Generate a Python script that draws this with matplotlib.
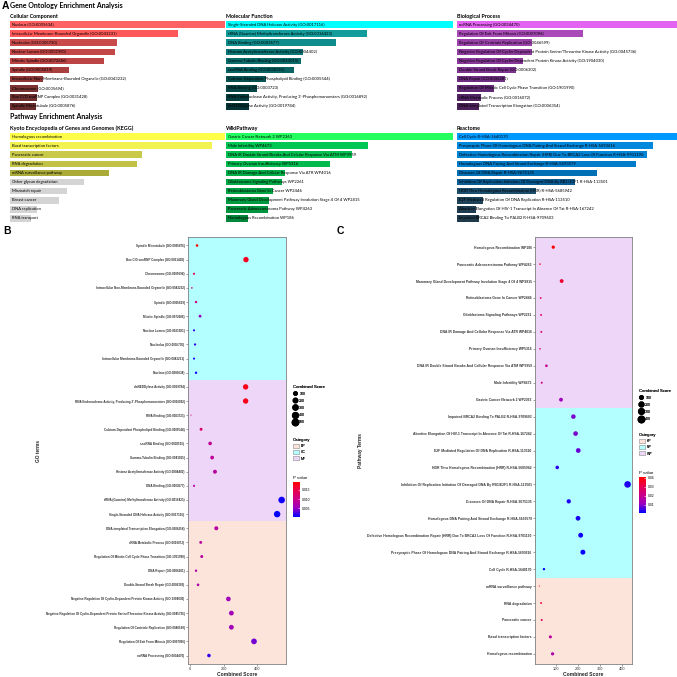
import numpy as np
import matplotlib
matplotlib.use("Agg")
import matplotlib.pyplot as plt
from matplotlib.colors import LinearSegmentedColormap, Normalize
from matplotlib.cm import ScalarMappable
from matplotlib.lines import Line2D
from matplotlib.patches import Patch

# ---------------- panel A : enrichment bar charts ----------------
cc_terms = ["Nucleus (GO:0005634)",
            "Intracellular Membrane-Bounded Organelle (GO:0043231)",
            "Nucleolus (GO:0005730)",
            "Nuclear Lumen (GO:0031981)",
            "Mitotic Spindle (GO:0072686)",
            "Spindle (GO:0005819)",
            "Intracellular Non-Membrane-Bounded Organelle (GO:0043232)",
            "Chromosome (GO:0005694)",
            "Box C/D snoRNP Complex (GO:0031428)",
            "Spindle Microtubule (GO:0005876)"]
cc_score = [215, 168, 107, 105, 94, 59, 33, 28, 27, 26]
cc_colors = ["#FF6262", "#FF5858", "#C84A4A", "#C44747", "#BC4444", "#A83E3E",
             "#8E3838", "#7C3333", "#6E2F2F", "#682C2C"]

mf_terms = ["Single-Stranded DNA Helicase Activity (GO:0017116)",
            "tRNA (Guanine) Methyltransferase Activity (GO:0016423)",
            "DNA Binding (GO:0003677)",
            "Histone Acetyltransferase Activity (GO:0004402)",
            "Gamma-Tubulin Binding (GO:0043015)",
            "snoRNA Binding (GO:0030515)",
            "Calcium-Dependent Phospholipid Binding (GO:0005544)",
            "RNA Binding (GO:0003723)",
            "RNA Endonuclease Activity, Producing 3'-Phosphomonoesters (GO:0016892)",
            "deNEDDylase Activity (GO:0019784)"]
mf_score = [227, 141, 110, 77, 75, 68, 40, 31, 23, 23]
mf_colors = ["#00FFFF", "#129C9C", "#0F8C8C", "#0C7676", "#0B6C6C", "#0A6464",
             "#085252", "#064646", "#053C3C", "#043434"]

bp_terms = ["ncRNA Processing (GO:0034470)",
            "Regulation Of Exit From Mitosis (GO:0007096)",
            "Regulation Of Centriole Replication (GO:0046599)",
            "Negative Regulation Of Cyclin-Dependent Protein Serine/Threonine Kinase Activity (GO:0045736)",
            "Negative Regulation Of Cyclin-Dependent Protein Kinase Activity (GO:1904030)",
            "Double-Strand Break Repair (GO:0006302)",
            "DNA Repair (GO:0006281)",
            "Regulation Of Mitotic Cell Cycle Phase Transition (GO:1901990)",
            "rRNA Metabolic Process (GO:0016072)",
            "DNA-templated Transcription Elongation (GO:0006354)"]
bp_score = [220, 126, 75, 75, 66, 59, 48, 37, 24, 22]
bp_colors = ["#E462F2", "#A94AB8", "#9A42AA", "#8F3C9F", "#873898", "#7D3490",
             "#702F82", "#612873", "#532463", "#4B205A"]

kegg_terms = ["Homologous recombination", "Basal transcription factors",
              "Pancreatic cancer", "RNA degradation", "mRNA surveillance pathway",
              "Other glycan degradation", "Mismatch repair", "Breast cancer",
              "DNA replication", "RNA transport"]
kegg_score = [215, 202, 132, 127, 99, 74, 57, 49, 27, 21]
kegg_colors = ["#FFFF4A", "#F2F250", "#CACA4A", "#C2C246", "#ABAB3A", "#D4D4D4",
               "#D4D4D4", "#D4D4D4", "#D4D4D4", "#D4D4D4"]

wp_terms = ["Gastric Cancer Network 2 WP2363", "Male Infertility WP4673",
            "DNA IR Double Strand Breaks And Cellular Response Via ATM WP3959",
            "Primary Ovarian Insufficiency WP5316",
            "DNA IR Damage And Cellular Response Via ATR WP4016",
            "Glioblastoma Signaling Pathways WP2261",
            "Retinoblastoma Gene In Cancer WP2446",
            "Mammary Gland Development Pathway Involution Stage 4 Of 4 WP2815",
            "Pancreatic Adenocarcinoma Pathway WP4263",
            "Homologous Recombination WP186"]
wp_score = [227, 142, 126, 104, 59, 56, 47, 43, 42, 22]
wp_colors = ["#22FF5E", "#00C653", "#00C050", "#00BA4D", "#00AE48", "#00A845",
             "#00A244", "#009A41", "#00943E", "#00873A"]

re_terms = ["Cell Cycle R-HSA-1640170",
            "Presynaptic Phase Of Homologous DNA Pairing And Strand Exchange R-HSA-5693616",
            "Defective Homologous Recombination Repair (HRR) Due To BRCA2 Loss Of Function R-HSA-9701190",
            "Homologous DNA Pairing And Strand Exchange R-HSA-5693579",
            "Diseases Of DNA Repair R-HSA-9675135",
            "Inhibition Of Replication Initiation Of Damaged DNA By RB1/E2F1 R-HSA-113501",
            "HDR Thru Homologous Recombination (HRR) R-HSA-5685942",
            "E2F Mediated Regulation Of DNA Replication R-HSA-113510",
            "Abortive Elongation Of HIV-1 Transcript In Absence Of Tat R-HSA-167242",
            "Impaired BRCA2 Binding To PALB2 R-HSA-9709603"]
re_score = [220, 196, 190, 179, 140, 118, 79, 26, 19, 22]
re_colors = ["#0099FF", "#0088DC", "#0084D6", "#007CCA", "#0070B6", "#0A5C94",
             "#1C4E6E", "#1E4258", "#1F3D50", "#1F3A4B"]

# ---------------- panel B : GO dot plot ----------------
go_terms = ["Spindle Microtubule (GO:0005876)",
            "Box C/D snoRNP Complex (GO:0031428)",
            "Chromosome (GO:0005694)",
            "Intracellular Non-Membrane-Bounded Organelle (GO:0043232)",
            "Spindle (GO:0005819)",
            "Mitotic Spindle (GO:0072686)",
            "Nuclear Lumen (GO:0031981)",
            "Nucleolus (GO:0005730)",
            "Intracellular Membrane-Bounded Organelle (GO:0043231)",
            "Nucleus (GO:0005634)",
            "deNEDDylase Activity (GO:0019784)",
            "RNA Endonuclease Activity, Producing 3'-Phosphomonoesters (GO:0016892)",
            "RNA Binding (GO:0003723)",
            "Calcium-Dependent Phospholipid Binding (GO:0005544)",
            "snoRNA Binding (GO:0030515)",
            "Gamma-Tubulin Binding (GO:0043015)",
            "Histone Acetyltransferase Activity (GO:0004402)",
            "DNA Binding (GO:0003677)",
            "tRNA (Guanine) Methyltransferase Activity (GO:0016423)",
            "Single-Stranded DNA Helicase Activity (GO:0017116)",
            "DNA-templated Transcription Elongation (GO:0006354)",
            "rRNA Metabolic Process (GO:0016072)",
            "Regulation Of Mitotic Cell Cycle Phase Transition (GO:1901990)",
            "DNA Repair (GO:0006281)",
            "Double-Strand Break Repair (GO:0006302)",
            "Negative Regulation Of Cyclin-Dependent Protein Kinase Activity (GO:1904030)",
            "Negative Regulation Of Cyclin-Dependent Protein Serine/Threonine Kinase Activity (GO:0045736)",
            "Regulation Of Centriole Replication (GO:0046599)",
            "Regulation Of Exit From Mitosis (GO:0007096)",
            "ncRNA Processing (GO:0034470)"]
go_cat = ["CC"] * 10 + ["MF"] * 10 + ["BP"] * 10
go_score = [42, 334, 24, 11, 36, 60, 24, 30, 24, 36,
            332, 332, 6, 66, 120, 132, 149, 24, 547, 520,
            157, 64, 70, 36, 48, 229, 247, 247, 382, 113]
go_p = [0.019, 0.017, 0.015, 0.013, 0.010, 0.005, 0.002, 0.002, 0.0015, 0.001,
        0.0175, 0.0175, 0.014, 0.013, 0.009, 0.0085, 0.008, 0.007, 0.001, 0.0005,
        0.008, 0.008, 0.008, 0.007, 0.007, 0.006, 0.006, 0.006, 0.004, 0.002]

# ---------------- panel C : pathway dot plot ----------------
pw_terms = ["Homologous Recombination WP186",
            "Pancreatic Adenocarcinoma Pathway WP4263",
            "Mammary Gland Development Pathway Involution Stage 4 Of 4 WP2815",
            "Retinoblastoma Gene In Cancer WP2446",
            "Glioblastoma Signaling Pathways WP2261",
            "DNA IR Damage And Cellular Response Via ATR WP4016",
            "Primary Ovarian Insufficiency WP5316",
            "DNA IR Double Strand Breaks And Cellular Response Via ATM WP3959",
            "Male Infertility WP4673",
            "Gastric Cancer Network 2 WP2363",
            "Impaired BRCA2 Binding To PALB2 R-HSA-9709603",
            "Abortive Elongation Of HIV-1 Transcript In Absence Of Tat R-HSA-167242",
            "E2F Mediated Regulation Of DNA Replication R-HSA-113510",
            "HDR Thru Homologous Recombination (HRR) R-HSA-5685942",
            "Inhibition Of Replication Initiation Of Damaged DNA By RB1/E2F1 R-HSA-113501",
            "Diseases Of DNA Repair R-HSA-9675135",
            "Homologous DNA Pairing And Strand Exchange R-HSA-5693579",
            "Defective Homologous Recombination Repair (HRR) Due To BRCA2 Loss Of Function R-HSA-9701190",
            "Presynaptic Phase Of Homologous DNA Pairing And Strand Exchange R-HSA-5693616",
            "Cell Cycle R-HSA-1640170",
            "mRNA surveillance pathway",
            "RNA degradation",
            "Pancreatic cancer",
            "Basal transcription factors",
            "Homologous recombination"]
pw_cat = ["WP"] * 10 + ["RP"] * 10 + ["KP"] * 5
pw_score = [87, 27, 125, 30, 32, 33, 27, 56, 35, 122,
            178, 188, 200, 105, 423, 157, 199, 211, 221, 45,
            24, 32, 35, 74, 84]
pw_p = [0.041, 0.036, 0.035, 0.030, 0.028, 0.026, 0.025, 0.020, 0.022, 0.012,
        0.009, 0.009, 0.008, 0.004, 0.003, 0.003, 0.0025, 0.002, 0.0015, 0.001,
        0.038, 0.033, 0.030, 0.018, 0.015]

cat_colors = {"BP": "#FDE4DB", "CC": "#B3FEFE", "MF": "#EDD6F8",
              "KP": "#FDE4DB", "RP": "#B3FEFE", "WP": "#EDD6F8"}
pv_cmap = LinearSegmentedColormap.from_list(
    "pv", ["#0000FF", "#9A00C2", "#CA0089", "#E8004F", "#FF0000"])

W = 677
fig = plt.figure(figsize=(6.77, 6.77), dpi=100)
fig.patch.set_facecolor("white")


def rect(x0, y0, x1, y1):
    # pixel box (top-left origin) -> figure fraction
    return [x0 / W, 1 - y1 / W, (x1 - x0) / W, (y1 - y0) / W]


def ftext(x, y, s, **kw):
    fig.text(x / W, 1 - y / W, s, **kw)


def bar_block(x0, y0, width, header, terms, score, colors):
    ftext(x0, y0 - 3.5, header, fontsize=3.9, fontweight="bold", family="Lato",
          va="center", ha="left")
    ax = fig.add_axes(rect(x0, y0, x0 + width, y0 + 91))
    pos = np.arange(len(terms))
    ax.barh(pos, score, height=0.72, color=colors)
    ax.set_xlim(0, max(score))
    ax.set_ylim(len(terms) - 0.5, -0.5)
    ax.axis("off")
    for p, t in zip(pos, terms):
        ax.annotate(t, (0, p), xytext=(1.2, 0), textcoords="offset points",
                    va="center", ha="left", fontsize=3.0, family="Lato")


ftext(2, 6, "A", fontsize=7.5, fontweight="bold", family="Liberation Sans",
      va="center")
ftext(10, 5.5, "Gene Ontology Enrichment Analysis", fontsize=5.0,
      fontweight="bold", family="Lato", va="center")
ftext(10, 116, "Pathway Enrichment Analysis", fontsize=5.0,
      fontweight="bold", family="Lato", va="center")

bar_block(10, 20, 215, "Cellular Component", cc_terms, cc_score, cc_colors)
bar_block(226, 20, 227, "Molecular Function", mf_terms, mf_score, mf_colors)
bar_block(457, 20, 220, "Biological Process", bp_terms, bp_score, bp_colors)
bar_block(10, 132, 215, "Kyoto Encyclopedia of Genes and Genomes (KEGG)",
          kegg_terms, kegg_score, kegg_colors)
bar_block(226, 132, 227, "WikiPathway", wp_terms, wp_score, wp_colors)
bar_block(457, 132, 220, "Reactome", re_terms, re_score, re_colors)


def dot_px(v, lo, hi):
    return 1.1 * (1 + 5 * np.sqrt((np.asarray(v, float) - lo) / (hi - lo)))


def dot_panel(box, terms, cats, score, pv, xlim, xticks, ylabel, fs):
    ax = fig.add_axes(rect(*box))
    n = len(terms)
    ypos = np.arange(n)[::-1]
    ylim = (-0.6, n - 0.4)
    for c in dict.fromkeys(cats):
        ys = [y for y, k in zip(ypos, cats) if k == c]
        lo = min(ys) - 0.5 if min(ys) > 0 else ylim[0]
        hi = max(ys) + 0.5 if max(ys) < n - 1 else ylim[1]
        ax.axhspan(lo, hi, color=cat_colors[c], lw=0, zorder=0)
    lo_s, hi_s = min(score), max(score)
    norm = Normalize(min(pv), max(pv))
    ax.scatter(score, ypos, s=(dot_px(score, lo_s, hi_s) * 0.72) ** 2, c=pv,
               cmap=pv_cmap, norm=norm, edgecolors="none", zorder=3)
    ax.set_xlim(*xlim)
    ax.set_ylim(*ylim)
    ax.set_xticks(xticks)
    ax.set_yticks(ypos, terms)
    for lab in ax.get_yticklabels():
        lab.set_fontweight("bold")
    ax.tick_params(axis="y", labelsize=fs, length=1.5, width=0.4,
                   color="#555555", labelcolor="#333333", pad=1)
    ax.tick_params(axis="x", labelsize=2.8, length=1.5, width=0.4,
                   color="#555555", labelcolor="#333333", pad=1)
    for sp in ax.spines.values():
        sp.set_color("#808080")
        sp.set_linewidth(0.6)
    ax.set_xlabel("Combined Score", fontsize=3.6, fontweight="bold",
                  labelpad=0.6, color="#222222")
    ax.set_ylabel(ylabel, fontsize=3.4, fontweight="bold", labelpad=3,
                  color="#222222")
    return norm, lo_s, hi_s


def legends(x, y_size, breaks, lo_s, hi_s, cats, y_cat, cb_box, cb_ticks,
            norm):
    hs = [Line2D([], [], ls="none", marker="o", mfc="black", mec="black",
                 ms=float(dot_px(v, lo_s, hi_s)) * 0.72) for v in breaks]
    leg = fig.legend(hs, [str(v) for v in breaks], title="Combined Score",
                     loc="upper left", bbox_to_anchor=(x / W, 1 - y_size / W),
                     frameon=False, fontsize=2.5, title_fontsize=3.2,
                     handlelength=1.3, handleheight=1.3, handletextpad=0.5,
                     labelspacing=0.85, borderpad=0, borderaxespad=0,
                     alignment="left")
    fig.add_artist(leg)
    ps = [Patch(facecolor=cat_colors[c], edgecolor="#A0A0A0", lw=0.4)
          for c in cats]
    leg2 = fig.legend(ps, cats, title="Category", loc="upper left",
                      bbox_to_anchor=(x / W, 1 - y_cat / W), frameon=False,
                      fontsize=2.5, title_fontsize=3.2, handlelength=1.7,
                      handleheight=1.5, handletextpad=0.5, labelspacing=0.55,
                      borderpad=0, borderaxespad=0, alignment="left")
    fig.add_artist(leg2)
    ftext(x, cb_box[1] - 4, "P value", fontsize=3.2, va="center", ha="left")
    cax = fig.add_axes(rect(*cb_box))
    cb = fig.colorbar(ScalarMappable(norm, pv_cmap), cax=cax)
    cb.outline.set_visible(False)
    cb.set_ticks(cb_ticks)
    cb.ax.tick_params(labelsize=2.4, length=1.2, width=0.4, color="white",
                      direction="in", pad=1.5)


ftext(3, 231, "B", fontsize=7.5, fontweight="bold", family="Liberation Sans",
      va="center")
ftext(337, 231, "C", fontsize=7.5, fontweight="bold", family="Liberation Sans",
      va="center")

plt.rcParams["font.family"] = ["Liberation Sans", "DejaVu Sans"]

nb, lob, hib = dot_panel((188, 237, 286, 664), go_terms, go_cat, go_score, go_p,
                         (-12, 573), [0, 200, 400], "GO terms", 2.2)
legends(293, 385, [100, 200, 300, 400, 500], lob, hib, ["BP", "CC", "MF"], 438,
        (293, 482, 300, 517), [0.005, 0.010, 0.015], nb)

nc, loc_, hic = dot_panel((535, 237, 632, 664), pw_terms, pw_cat, pw_score, pw_p,
                          (4.5, 443), [100, 200, 300, 400], "Pathway Terms", 2.4)
legends(639, 389, [100, 200, 300, 400], loc_, hic, ["KP", "RP", "WP"], 433,
        (639, 477, 646, 513), [0.01, 0.02, 0.03, 0.04], nc)

fig.savefig("out.png", dpi=100, facecolor="white")
